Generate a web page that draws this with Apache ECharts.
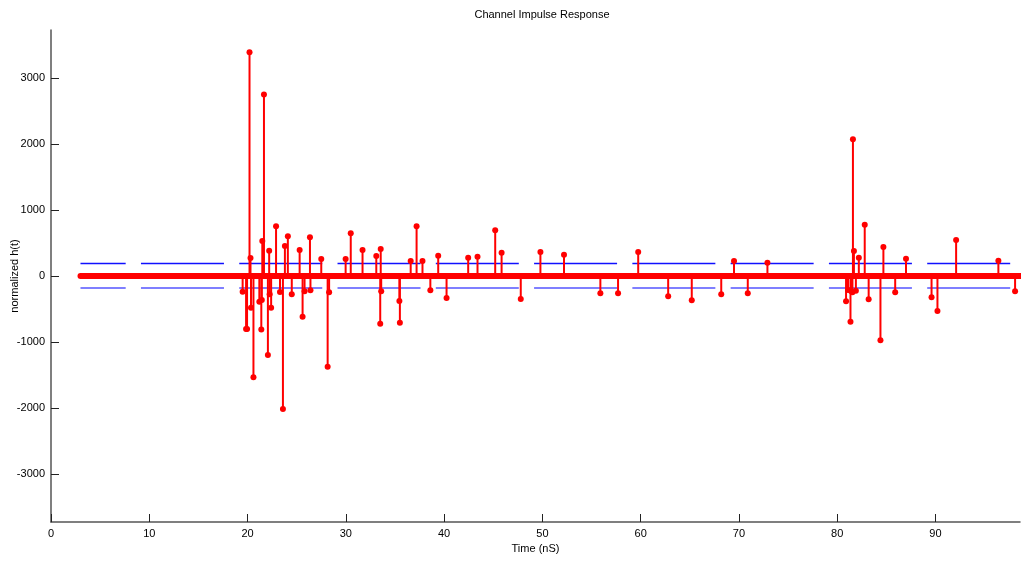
<!DOCTYPE html>
<html>
<head>
<meta charset="utf-8">
<script src="https://cdn.jsdelivr.net/npm/echarts@6/dist/echarts.min.js"></script>
<style>
html,body{margin:0;padding:0;background:#fff;}
#chart{width:1021px;height:561px;}
</style>
</head>
<body>
<div id="chart"></div>
<script>
// ---- data ----
var stemTimes = [19.5, 19.85, 19.95, 20.2, 20.3, 20.35, 20.6, 21.2, 21.4, 21.45, 21.5, 21.67, 22.07, 22.2, 22.25, 22.4, 22.9, 23.3, 23.6, 23.8, 24.1, 24.5, 25.3, 25.6, 25.8, 26.35, 26.4, 27.5, 28.15, 28.3,
  29.98, 30.5, 31.7, 33.1, 33.5, 33.55, 33.6, 35.45, 35.5, 36.6, 37.2, 37.8, 38.6, 39.4, 40.25, 42.45, 43.4, 45.2, 45.85, 47.8,
  49.8, 52.2, 55.9, 57.7, 59.75, 62.8, 65.2, 68.2, 69.5, 70.9, 72.9,
  80.9, 81.1, 81.35, 81.4, 81.55, 81.6, 81.7, 81.9, 82.2, 82.8, 83.2, 84.4, 84.7, 85.9, 87.0, 89.6, 90.2, 92.1, 96.4, 98.1];
var stemValues = [-237, -803, -803, 3389, 273, -480, -1535, -389, -811, -364, 530, 2752, -1197, 384, -278, -480, 753, -242, -2015, 454, 601, -278, 394, -616, -232, 586, -217, 257, -1374, -247,
  258, 646, 394, 303, -722, 409, -232, -379, -707, 227, 753, 227, -217, 308, -333, 278, 293, 692, 353, -350,
  364, 323, -262, -262, 364, -308, -369, -278, 227, -262, 200,
  -384, -212, -692, -227, -247, 2071, 379, -222, 278, 778, -354, -975, 439, -247, 263, -323, -530, 545, 232, -232];
var baselineStart = 3;
var baselineEnd = 98.6;
var thresholdUpper = 188;
var thresholdLower = -182;
var xTicks = [0, 10, 20, 30, 40, 50, 60, 70, 80, 90];
var yTicks = [-3000, -2000, -1000, 0, 1000, 2000, 3000];
var xMin = 0, xMax = 98.6;
var yMin = -3728, yMax = 3728;

var stemData = stemTimes.map(function (t, i) { return [t, stemValues[i]]; });

var chart = echarts.init(document.getElementById('chart'), null, {renderer: 'canvas'});
var font = 'Liberation Sans, Arial, sans-serif';
function plain(v) { return String(v); }
var option = {
  animation: false,
  backgroundColor: '#ffffff',
  title: {
    text: 'Channel Impulse Response',
    left: 537, top: 4, textAlign: 'center',
    textStyle: {fontFamily: font, fontSize: 11, fontWeight: 'normal', color: '#000'}
  },
  grid: {left: 51, right: 1, top: 30, bottom: 39, containLabel: false, outerBoundsMode: 'none'},
  xAxis: {
    type: 'value', min: xMin, max: xMax,
    name: 'Time (nS)', nameLocation: 'middle', nameGap: 21, nameMoveOverlap: false,
    nameTextStyle: {fontFamily: font, fontSize: 11, color: '#000'},
    axisLine: {show: true, onZero: false, lineStyle: {color: '#555', width: 1.5}},
    axisTick: {show: true, inside: true, length: 8, customValues: xTicks, lineStyle: {color: '#222', width: 1}},
    axisLabel: {customValues: xTicks, formatter: plain, margin: 6, fontFamily: font, fontSize: 11, color: '#000'},
    splitLine: {show: false}
  },
  yAxis: {
    type: 'value', min: yMin, max: yMax,
    name: 'normalized h(t)', nameLocation: 'middle', nameGap: 31, nameRotate: 90, nameMoveOverlap: false,
    nameTextStyle: {fontFamily: font, fontSize: 11, color: '#000'},
    axisLine: {show: true, onZero: false, lineStyle: {color: '#555', width: 1.5}},
    axisTick: {show: true, inside: true, length: 8, customValues: yTicks, lineStyle: {color: '#222', width: 1}},
    axisLabel: {customValues: yTicks, formatter: plain, margin: 6, fontFamily: font, fontSize: 11, color: '#000'},
    splitLine: {show: false}
  },
  series: [
    {
      type: 'line', name: 'upper', silent: true, symbol: 'none',
      data: [[baselineStart, thresholdUpper], [baselineEnd, thresholdUpper]],
      lineStyle: {color: '#1010ff', width: 1.5, type: [83, 15.28], dashOffset: 37.8}, z: 2
    },
    {
      type: 'line', name: 'lower', silent: true, symbol: 'none',
      data: [[baselineStart, thresholdLower], [baselineEnd, thresholdLower]],
      lineStyle: {color: '#7f7fff', width: 2, type: [83, 15.28], dashOffset: 37.8}, z: 2
    },
    {
      type: 'custom', name: 'stems', silent: true,
      data: stemData,
      renderItem: function (params, api) {
        var t = api.value(0), v = api.value(1);
        var p0 = api.coord([t, 0]);
        var p1 = api.coord([t, v]);
        return {
          type: 'line',
          shape: {x1: p0[0], y1: p0[1], x2: p1[0], y2: p1[1]},
          style: {stroke: '#ff0000', lineWidth: 2}
        };
      },
      z: 3
    },
    {
      type: 'scatter', name: 'tips', silent: true,
      data: stemData, symbol: 'circle', symbolSize: 6,
      itemStyle: {color: '#ff0000', opacity: 1}, z: 4
    },
    {
      type: 'line', name: 'baseline', silent: true, symbol: 'none',
      data: [[baselineStart, 0], [baselineEnd, 0]],
      lineStyle: {color: '#ff0000', width: 6, cap: 'round'}, z: 5
    }
  ]
};
chart.setOption(option);
</script>
</body>
</html>
